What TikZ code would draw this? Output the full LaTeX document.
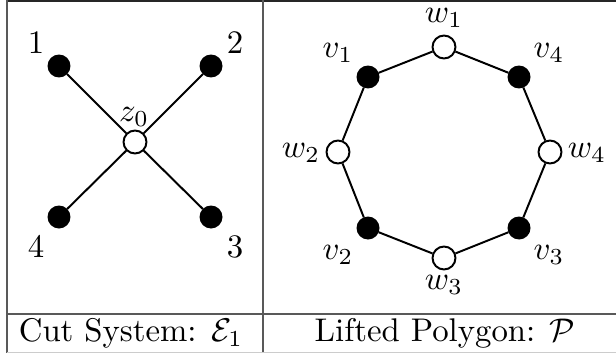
\documentclass[tikz,border=0pt]{standalone}
\begin{document}
\begin{tikzpicture}[x=0.305pt,y=-0.305pt,
  blk/.style={circle,fill=black,draw=black,line width=0.6pt,minimum size=6.4pt,inner sep=0pt},
  wht/.style={circle,fill=white,draw=black,line width=0.6pt,minimum size=7pt,inner sep=0pt},
  edge/.style={line width=0.6pt},
  rulel/.style={line width=0.6pt,draw=black!65},
  lbl/.style={inner sep=0pt}]
\useasboundingbox (0,0) rectangle (616,353);
% table rules
\draw[line width=0.6pt,draw=black!85] (7,1) -- (616,1);
\draw[rulel] (7,0) -- (7,353);
\draw[rulel] (263,0) -- (263,353);
\draw[rulel] (7,314) -- (616,314);
\draw[line width=0.6pt,draw=black!20] (7,352.5) -- (616,352.5);
% left panel
\node[blk] (p1) at (59,66) {};
\node[blk] (p2) at (211,66) {};
\node[blk] (p3) at (211,217) {};
\node[blk] (p4) at (59,217) {};
\node[wht] (z0) at (135,142) {};
\draw[edge] (p1) -- (z0);
\draw[edge] (p2) -- (z0);
\draw[edge] (p3) -- (z0);
\draw[edge] (p4) -- (z0);
\node[lbl] (l1) at (36,43) {$1$};
\node[lbl] (l2) at (235,43) {$2$};
\node[lbl] (l3) at (235,247) {$3$};
\node[lbl] (l4) at (36,247) {$4$};
\node[lbl] (lz) at (134,117) {$z_0$};
% right panel
\node[wht] (w1) at (444,47) {};
\node[blk] (v4) at (519,77) {};
\node[wht] (w4) at (550,152) {};
\node[blk] (v3) at (519,228) {};
\node[wht] (w3) at (444,258) {};
\node[blk] (v2) at (368,228) {};
\node[wht] (w2) at (338,152) {};
\node[blk] (v1) at (368,77) {};
\draw[edge] (w1) -- (v4) -- (w4) -- (v3) -- (w3) -- (v2) -- (w2) -- (v1) -- (w1);
\node[lbl] (lw1) at (444,18) {$w_1$};
\node[lbl] (lv1) at (338,53) {$v_1$};
\node[lbl] (lv4) at (549,53) {$v_4$};
\node[lbl] (lw2) at (301,153) {$w_2$};
\node[lbl] (lw4) at (587,153) {$w_4$};
\node[lbl] (lv2) at (338,255) {$v_2$};
\node[lbl] (lv3) at (549,255) {$v_3$};
\node[lbl] (lw3) at (444,285) {$w_3$};
% captions
\node[lbl] (c1) at (131,333) {Cut System: $\mathcal{E}_1$};
\node[lbl] (c2) at (445,333) {Lifted Polygon: $\mathcal{P}$};
\end{tikzpicture}
\end{document}
